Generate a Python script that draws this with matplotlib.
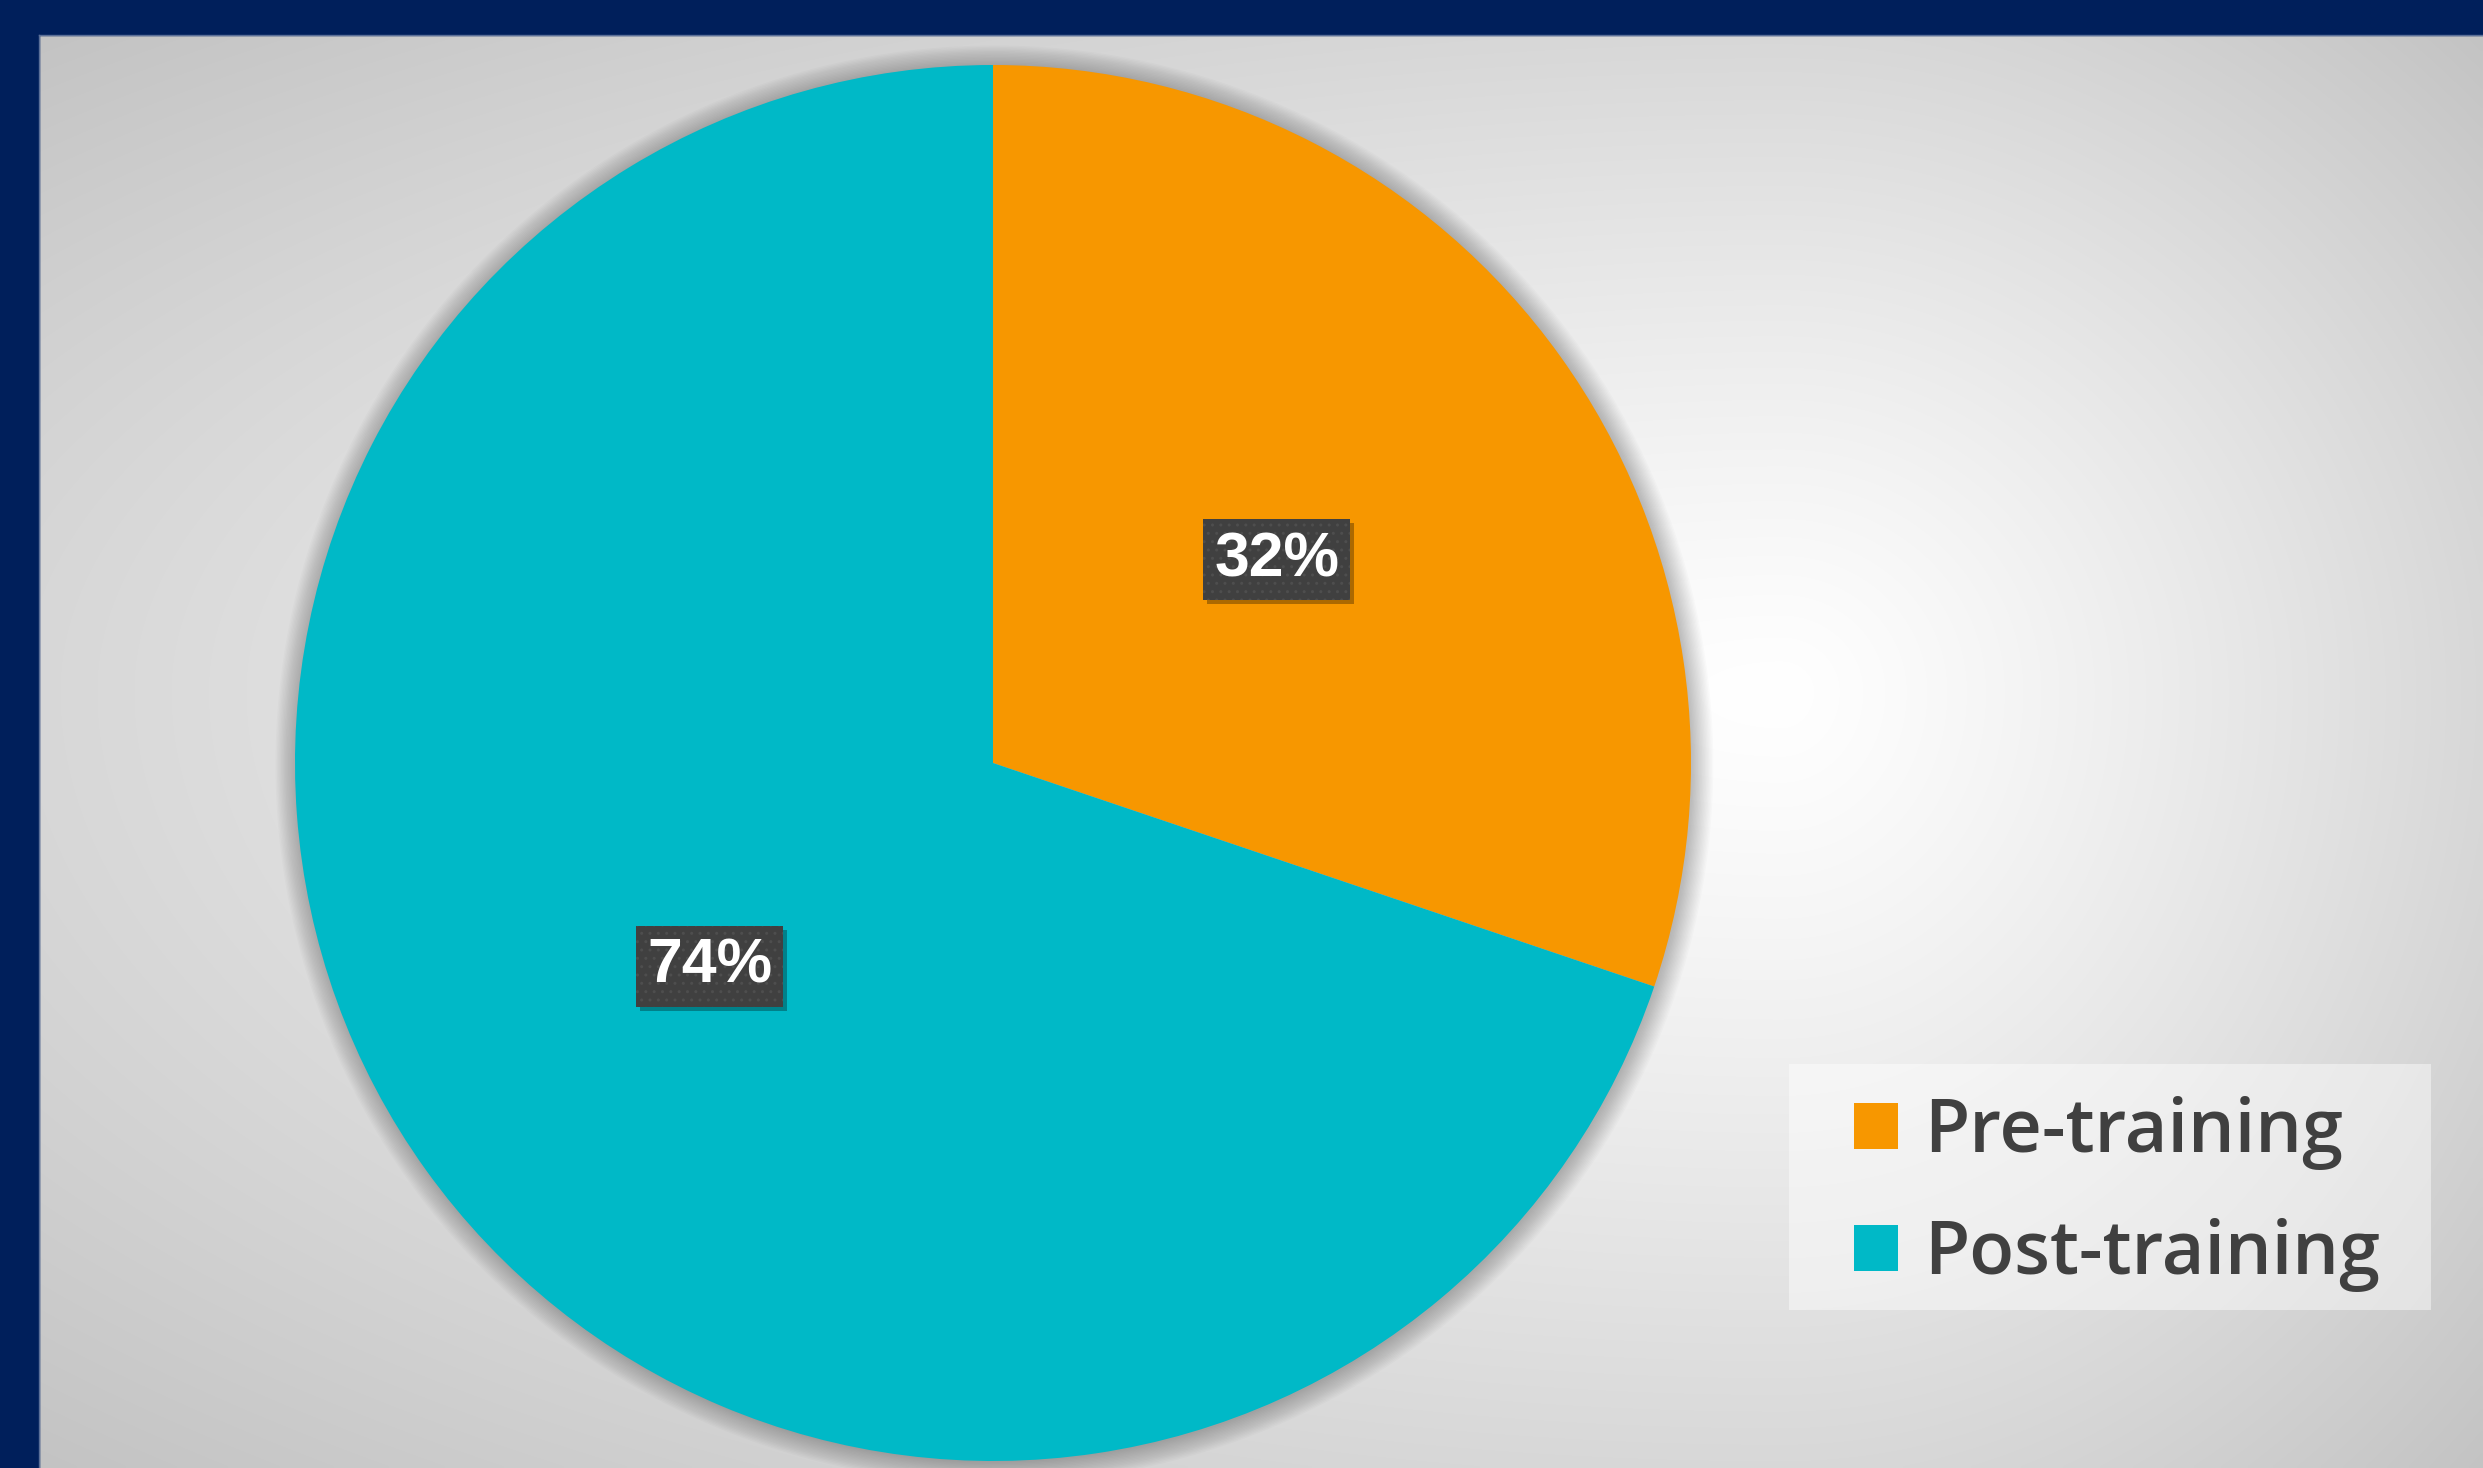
import numpy as np
import matplotlib.pyplot as plt
from matplotlib.patches import Circle, Rectangle
from matplotlib import transforms

labels = ['Pre-training', 'Post-training']
values = [32, 74]
colors = ['#F79700', '#00B9C7']

W, H = 2483, 1468
navy = '#001F5B'
fig = plt.figure(figsize=(W / 100, H / 100), dpi=100)

# background: grey radial gradient + navy frame on top/left
bg = fig.add_axes([0, 0, 1, 1])
bg.set_xlim(0, W)
bg.set_ylim(H, 0)
bg.axis('off')
yy, xx = np.mgrid[0:H:4, 0:W:4]
cx, cy = 1780, 690
nx = np.where(xx < cx, (cx - xx) / (cx - 39), (xx - cx) / (W - cx))
ny = np.where(yy < cy, (cy - yy) / (cy - 35), (yy - cy) / (H - cy))
r = np.clip(np.sqrt(nx ** 2 + ny ** 2) / np.sqrt(2), 0, 1)
g = 1 - 0.235 * r ** 1.2
bg.imshow(np.dstack([g, g, g]), extent=[0, W, H, 0], interpolation='bilinear', aspect='auto')
bg.add_patch(Rectangle((0, 0), W, 35, color=navy))
bg.add_patch(Rectangle((0, 0), 39, H, color=navy))
bg.plot([39, W], [35, 35], color='#5b6f98', lw=1)
bg.plot([39, 39], [35, H], color='#5b6f98', lw=1)
# legend background
bg.add_patch(Rectangle((1789, 1064), 642, 246, color='white', alpha=0.45, lw=0))

# pie
ax = fig.add_axes([(993 - 698) / W, (H - 763 - 698) / H, 1396 / W, 1396 / H])
total = sum(values)

# soft glow shadow around the pie
for k in range(16):
    ax.add_patch(Circle((0.002, -0.002), 1.0 + k * 0.002, color='black', alpha=0.015,
                        lw=0, zorder=0, clip_on=False))

wedges, texts, autotexts = ax.pie(
    values, colors=colors, startangle=90, counterclock=False, radius=1,
    autopct=lambda p: f'{p * total / 100:.0f}%', pctdistance=0.5,
    wedgeprops=dict(linewidth=0),
    textprops=dict(color='white', fontsize=45, fontweight='bold', family='Liberation Sans'))
ax.set_xlim(-1, 1)
ax.set_ylim(-1, 1)

for t in autotexts:
    t.set_zorder(5)
    t.set_bbox(dict(boxstyle='square,pad=0.18', fc='#404040', ec='#4e4e4e', lw=0, hatch='..'))
    sh = transforms.offset_copy(ax.transData, fig=fig, x=4, y=-4, units='dots')
    ax.text(*t.get_position(), t.get_text(), ha='center', va='center', fontsize=45,
            fontweight='bold', family='Liberation Sans', color='none', transform=sh, zorder=4,
            bbox=dict(boxstyle='square,pad=0.18', fc='black', alpha=0.3, lw=0))

# legend: squares 44px, rows centred at y=1127 and 1249 px
leg_prop = dict(family=['Open Sans', 'DejaVu Sans'], size=53, weight='semibold')
em = 53 * 100 / 72


def make_legend(spacing):
    return fig.legend(wedges, labels, loc='center left',
                      bbox_to_anchor=(1854 / W, 1 - 1194 / H),
                      borderaxespad=0, borderpad=0, frameon=False, labelcolor='#404040',
                      prop=leg_prop, handlelength=44 / em, handleheight=44 / em,
                      handletextpad=0.36, labelspacing=spacing)


leg = make_legend(0.5)
fig.canvas.draw()
ys = [h.get_window_extent().y0 for h in leg.legend_handles]
gap = abs(ys[0] - ys[1])
leg.remove()
leg = make_legend(0.5 + (122 - gap) / em)

fig.savefig('out.png', dpi=100)
